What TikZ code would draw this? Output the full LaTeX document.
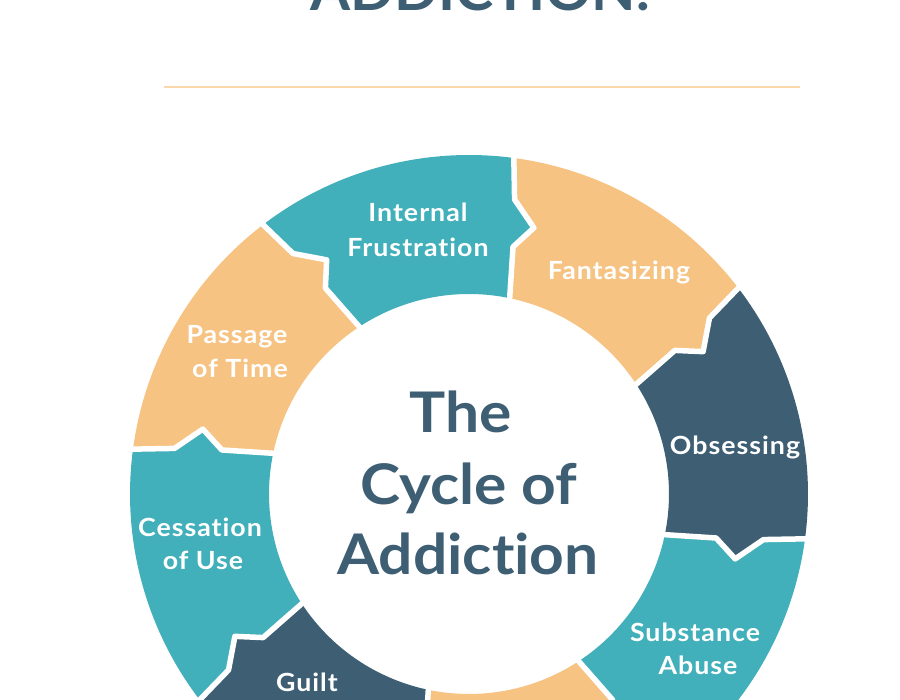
\documentclass[tikz,border=0pt]{standalone}
\usepackage{fontspec}
\setmainfont{Lato}[Ligatures=NoCommon]
\newfontfamily\lblfont{Lato}[Ligatures=NoCommon,FakeStretch=1.07,LetterSpace=4]
\newfontfamily\ctrfont{Lato}[Ligatures=NoCommon,FakeStretch=1.08]
\newfontfamily\ttlfont{Lato}[Ligatures=NoCommon,FakeStretch=1.03]
\definecolor{tealc}{RGB}{66,176,187}
\definecolor{orngc}{RGB}{246,195,131}
\definecolor{dkblue}{RGB}{61,94,115}
\definecolor{rulec}{RGB}{251,215,170}
\begin{document}
\begin{tikzpicture}[x=1pt,y=1pt,
  lbl/.style={text=white,font=\lblfont\bfseries\fontsize{25}{25}\selectfont,anchor=base,inner sep=0pt},
  ctr/.style={text=dkblue,font=\ctrfont\bfseries\fontsize{56}{56}\selectfont,anchor=base,inner sep=0pt},
  ttl/.style={text=dkblue,font=\ttlfont\bfseries\fontsize{56}{56}\selectfont,anchor=base,inner sep=0pt},
  gapline/.style={draw=white,line width=5.5pt,line join=round},
  rulestyle/.style={draw=rulec,line width=2pt}]
\useasboundingbox (0,0) rectangle (900,700);
\clip (0,0) rectangle (900,700);
% title (cut off at top)
\node[ttl] (title) at (480,689) {ADDICTION.};
\coordinate (ruleL) at (164,613);
\coordinate (ruleR) at (800,613);
\draw[rulestyle] (ruleL) -- (ruleR);
% ring
\begin{scope}[shift={(469,206)}]
\foreach \s/\c in {127.5/tealc, 82.5/orngc, 37.5/dkblue, -7.5/tealc, -52.5/orngc, -97.5/dkblue, -142.5/tealc, -187.5/orngc}{
  \pgfmathsetmacro\e{\s-45}
  \fill[\c] ({\s}:339) arc[start angle=\s, end angle=\e, radius=339]
    -- ({\e-1.3}:298) -- ({\e-6.2}:274) -- ({\e-2.6}:251) -- ({\e-4.4}:200)
    arc[start angle=\e-4.4, end angle=\s-4.4, radius=200]
    -- ({\s-2.6}:251) -- ({\s-6.2}:274) -- ({\s-1.3}:298) -- cycle;
}
\foreach \b in {127.5, 82.5, 37.5, -7.5, -52.5, -97.5, -142.5, -187.5}{
  \draw[gapline] ({\b}:343) -- ({\b-1.3}:298) -- ({\b-6.2}:274) -- ({\b-2.6}:251) -- ({\b-4.4}:196);
}
\end{scope}
% centre text
\node[ctr] (cThe) at (461,267) {The};
\node[ctr] (cCycle) at (469,195) {Cycle of};
\node[ctr] (cAdd) at (468,125) {Addiction};
% labels
\node[lbl] (l1a) at (418,478) {Internal};
\node[lbl] (l1b) at (418,443) {Frustration};
\node[lbl] (l2) at (619,420) {Fantasizing};
\node[lbl] (l3) at (735,245) {Obsessing};
\node[lbl] (l4a) at (695,58) {Substance};
\node[lbl] (l4b) at (698,25) {Abuse};
\node[lbl] (l6) at (307,8) {Guilt};
\node[lbl] (l7a) at (200,163) {Cessation};
\node[lbl] (l7b) at (203,130) {of Use};
\node[lbl] (l8a) at (237,356) {Passage};
\node[lbl] (l8b) at (240,322) {of Time};
\end{tikzpicture}
\end{document}
